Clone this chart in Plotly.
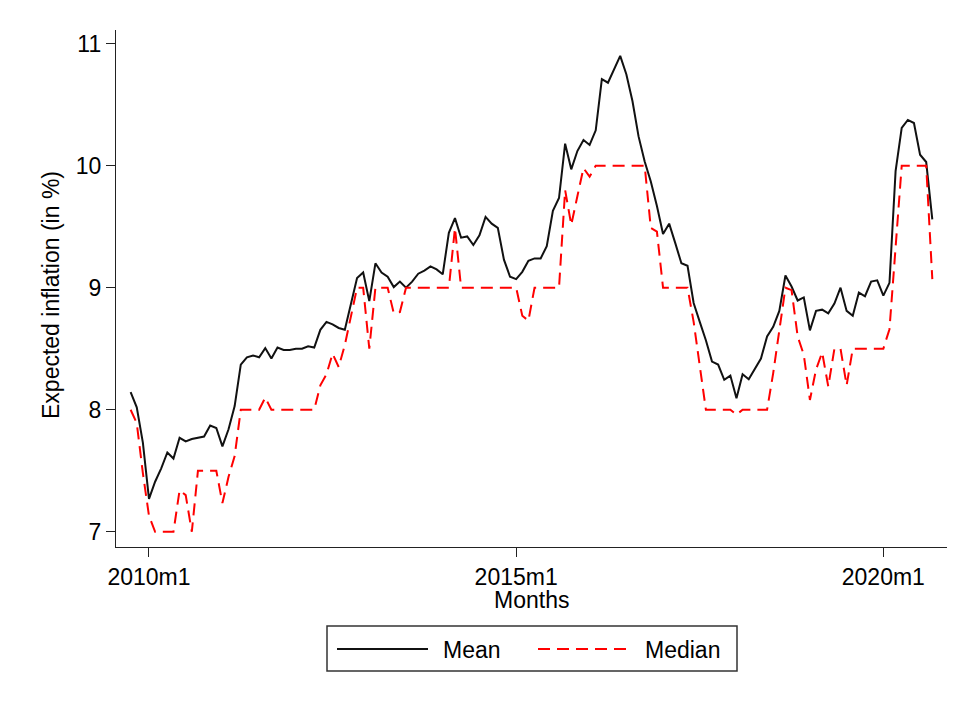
import plotly.graph_objects as go

# Survey of expected inflation, monthly from 2009m10 to 2020m9
start_year, start_month = 2009, 10
mean_exp = [
    8.145, 8.02, 7.73, 7.27, 7.41, 7.52, 7.65, 7.60, 7.77, 7.74,
    7.76, 7.77, 7.78, 7.87, 7.85, 7.70, 7.84, 8.03, 8.37, 8.43,
    8.445, 8.43, 8.505, 8.42, 8.51, 8.49, 8.49, 8.50, 8.50, 8.52,
    8.51, 8.655, 8.72, 8.70, 8.67, 8.655, 8.86, 9.08, 9.125, 8.89,
    9.20, 9.125, 9.09, 9.005, 9.05, 9.00, 9.05, 9.115, 9.14, 9.175,
    9.15, 9.11, 9.45, 9.57, 9.41, 9.42, 9.35, 9.43, 9.58, 9.525,
    9.49, 9.23, 9.09, 9.07, 9.13, 9.22, 9.24, 9.24, 9.34, 9.63,
    9.735, 10.18, 9.97, 10.12, 10.21, 10.17, 10.29, 10.71, 10.68, 10.79,
    10.90, 10.75, 10.53, 10.24, 10.035, 9.87, 9.67, 9.44, 9.525, 9.365,
    9.20, 9.18, 8.875, 8.72, 8.57, 8.395, 8.37, 8.245, 8.28, 8.095,
    8.29, 8.25, 8.33, 8.42, 8.60, 8.68, 8.81, 9.10, 9.01, 8.895,
    8.92, 8.65, 8.81, 8.82, 8.79, 8.87, 9.00, 8.81, 8.77, 8.96,
    8.93, 9.05, 9.06, 8.935, 9.04, 9.955, 10.31, 10.375, 10.35, 10.09,
    10.03, 9.56,
]
median_exp = [
    8.00, 7.89, 7.48, 7.13, 7.00, 7.00, 7.00, 7.00, 7.34, 7.30,
    7.00, 7.50, 7.50, 7.50, 7.50, 7.235, 7.45, 7.62, 8.00, 8.00,
    8.00, 8.00, 8.10, 8.00, 8.00, 8.00, 8.00, 8.00, 8.00, 8.00,
    8.00, 8.20, 8.29, 8.46, 8.35, 8.53, 8.76, 9.00, 9.00, 8.50,
    9.00, 9.00, 9.00, 8.79, 8.80, 9.00, 9.00, 9.00, 9.00, 9.00,
    9.00, 9.00, 9.00, 9.49, 9.00, 9.00, 9.00, 9.00, 9.00, 9.00,
    9.00, 9.00, 9.00, 9.00, 8.77, 8.73, 9.00, 9.00, 9.00, 9.00,
    9.00, 9.80, 9.515, 9.75, 9.98, 9.91, 10.00, 10.00, 10.00, 10.00,
    10.00, 10.00, 10.00, 10.00, 10.00, 9.49, 9.46, 9.00, 9.00, 9.00,
    9.00, 9.00, 8.72, 8.38, 8.00, 8.00, 8.00, 8.00, 8.00, 7.96,
    8.00, 8.00, 8.00, 8.00, 8.00, 8.30, 8.65, 9.00, 8.98, 8.60,
    8.45, 8.08, 8.33, 8.47, 8.19, 8.50, 8.50, 8.20, 8.50, 8.50,
    8.50, 8.50, 8.50, 8.50, 8.66, 9.33, 10.00, 10.00, 10.00, 10.00,
    10.00, 9.07,
]
x_tick_labels = ["2010m1", "2015m1", "2020m1"]
y_ticks = [7, 8, 9, 10, 11]

# months counted from 2010m1 (= 0)
offset = (start_year - 2010) * 12 + (start_month - 1)
months = [offset + i for i in range(len(mean_exp))]
month_names = [f"{2010 + (m // 12)}m{m % 12 + 1}" for m in months]
x_tick_vals = [0, 60, 120]

FONT = "Liberation Sans, Arial, sans-serif"
FS = 23
W, H = 963, 702
L, R, T, B = 116, 16, 30, 155
PW, PH = W - L - R, H - T - B


def px(x):
    return (x - L) / PW


def py(y):
    return (H - B - y) / PH


fig = go.Figure()
fig.add_trace(go.Scatter(
    x=months, y=mean_exp, mode="lines", name="Mean",
    customdata=month_names, hovertemplate="%{customdata}: %{y}<extra>Mean</extra>",
    line=dict(color="#111111", width=2),
))
fig.add_trace(go.Scatter(
    x=months, y=median_exp, mode="lines", name="Median",
    customdata=month_names, hovertemplate="%{customdata}: %{y}<extra>Median</extra>",
    line=dict(color="#ff0000", width=2, dash="12px,7px"),
))

axis_common = dict(
    showgrid=False, zeroline=False, showline=True, linecolor="#222222",
    linewidth=1.3, ticks="outside", tickcolor="#222222", tickwidth=1.3,
    ticklen=9, tickfont=dict(family=FONT, size=FS, color="#000000"),
)
fig.update_xaxes(
    range=[-5.39, 130.4], tickmode="array", tickvals=x_tick_vals,
    ticktext=x_tick_labels, **axis_common,
)
fig.update_yaxes(
    range=[6.875, 11.112], tickmode="array", tickvals=y_ticks,
    ticktext=[str(v) for v in y_ticks], **axis_common,
)

# axis titles
annotations = [
    dict(text="Months", x=0.5, y=py(600), xref="paper", yref="paper",
         xanchor="center", yanchor="middle", showarrow=False,
         font=dict(family=FONT, size=FS, color="#000000")),
    dict(text="Expected inflation (in %)", x=px(51), y=py(295), xref="paper",
         yref="paper", xanchor="center", yanchor="middle", textangle=-90,
         showarrow=False, font=dict(family=FONT, size=FS, color="#000000")),
    dict(text="Mean", x=px(441), y=py(650), xref="paper", yref="paper",
         xanchor="left", yanchor="middle", showarrow=False,
         font=dict(family=FONT, size=FS, color="#000000")),
    dict(text="Median", x=px(643), y=py(650), xref="paper", yref="paper",
         xanchor="left", yanchor="middle", showarrow=False,
         font=dict(family=FONT, size=FS, color="#000000")),
]

# legend box with its line keys
shapes = [
    dict(type="rect", xref="paper", yref="paper", x0=px(327), x1=px(737),
         y0=py(671), y1=py(626), line=dict(color="#333333", width=1.5),
         fillcolor="rgba(0,0,0,0)"),
    dict(type="line", xref="paper", yref="paper", x0=px(337), x1=px(428),
         y0=py(649), y1=py(649), line=dict(color="#111111", width=2)),
    dict(type="line", xref="paper", yref="paper", x0=px(538), x1=px(630),
         y0=py(649), y1=py(649),
         line=dict(color="#ff0000", width=2, dash="12px,7px")),
]

fig.update_layout(
    width=W, height=H, margin=dict(l=L, r=R, t=T, b=B),
    plot_bgcolor="white", paper_bgcolor="white", showlegend=False,
    annotations=annotations, shapes=shapes,
    font=dict(family=FONT, size=FS, color="#000000"),
)

fig.write_html("out.html")
